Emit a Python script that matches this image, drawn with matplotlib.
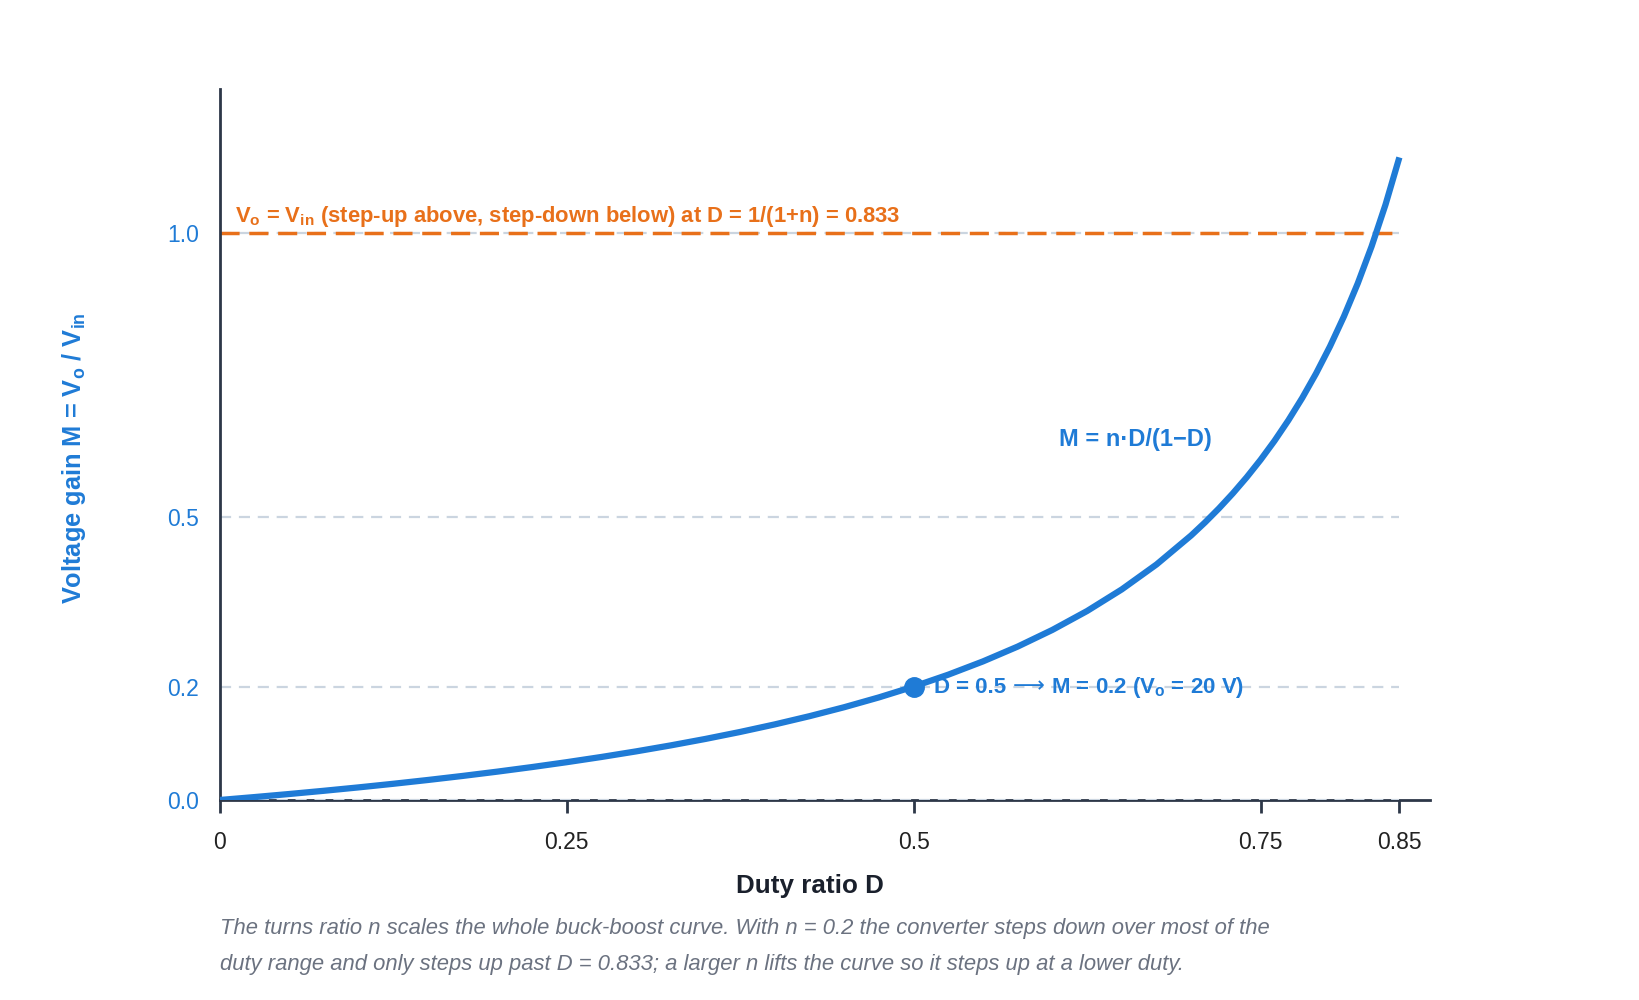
import numpy as np
import matplotlib
matplotlib.use('Agg')
import matplotlib.pyplot as plt

# duty ratio D and gain M = n*D/(1-D) with n = 0.2
duty = [0.0, 0.025, 0.05, 0.075, 0.10, 0.125, 0.15, 0.175, 0.20, 0.225, 0.25,
        0.275, 0.30, 0.325, 0.35, 0.375, 0.40, 0.425, 0.45, 0.475, 0.50,
        0.525, 0.55, 0.575, 0.60, 0.625, 0.65, 0.675, 0.70, 0.71, 0.72,
        0.73, 0.74, 0.75, 0.76, 0.77, 0.78, 0.79, 0.80, 0.81, 0.82, 0.83,
        0.84, 0.85]
gain = [0.0, 0.00513, 0.01053, 0.01622, 0.02222, 0.02857, 0.03529, 0.04242,
        0.05, 0.05806, 0.06667, 0.07586, 0.08571, 0.09630, 0.10769, 0.12,
        0.13333, 0.14783, 0.16364, 0.18095, 0.2, 0.22105, 0.24444, 0.27059,
        0.3, 0.33333, 0.37143, 0.41538, 0.46667, 0.48966, 0.51429, 0.54074,
        0.56923, 0.6, 0.63333, 0.66957, 0.70909, 0.75238, 0.8, 0.85263,
        0.91111, 0.97647, 1.05, 1.13333]

op_point = (0.5, 0.2)
unity_gain = 1.0
x_ticks = [0, 0.25, 0.5, 0.75, 0.85]
x_ticklabels = ['0', '0.25', '0.5', '0.75', '0.85']
y_ticks = [0.0, 0.2, 0.5, 1.0]
y_ticklabels = ['0.0', '0.2', '0.5', '1.0']

blue = '#1f7bd6'
orange = '#e8701a'
dark = '#2d3748'
grid = '#cbd5e0'

plt.rcParams['font.family'] = ['Liberation Sans', 'DejaVu Sans']
plt.rcParams['mathtext.fontset'] = 'custom'
plt.rcParams['mathtext.rm'] = 'Liberation Sans'
plt.rcParams['mathtext.bf'] = 'Liberation Sans:bold'

fig = plt.figure(figsize=(16.4, 10), dpi=100)
ax = fig.add_axes([0.1339, 0.2, 0.738, 0.711])

xmax = 0.85
ax.set_xlim(0, 0.872)
ax.set_ylim(0, 1.254)

# grid lines only across the data range
for yv in y_ticks:
	ax.hlines(yv, 0, xmax, colors=grid, linewidth=1.6, linestyles=(0, (5, 3.5)), zorder=3 if yv == 0 else 1)

ax.hlines(unity_gain, 0, xmax, colors=orange, linewidth=2.5, linestyles=(0, (5.5, 2.8)), zorder=2)

ax.plot(duty, gain, color=blue, linewidth=4.5, solid_capstyle='butt', zorder=4)
ax.plot([op_point[0]], [op_point[1]], 'o', color=blue, markersize=14, zorder=5)

ax.text(0.011, 1.019, r'V$_\mathbf{o}$ = V$_\mathbf{in}$ (step-up above, step-down below) at D = 1/(1+n) = 0.833',
	color=orange, fontsize=15.8, fontweight='bold', va='baseline', ha='left')

# operating point label, split so the arrow can come from DejaVu Sans
t1 = ax.text(0.515, 0.2, 'D = 0.5 ', color=blue, fontsize=16, fontweight='bold',
	va='baseline', ha='left', zorder=6)
t1.set_y(0.2 - 0.0105)
t2 = ax.annotate('⟶', xy=(1, 0.2 - 0.0105), xycoords=(t1, 'data'), color=blue,
	fontsize=16, family='DejaVu Sans', va='baseline', ha='left', zorder=6)
ax.annotate(r' M = 0.2 (V$_\mathbf{o}$ = 20 V)', xy=(1, 0.2 - 0.0105), xycoords=(t2, 'data'),
	color=blue, fontsize=16, fontweight='bold', va='baseline', ha='left', zorder=6)

ax.text(0.605, 0.635, 'M = n·D/(1−D)', color=blue, fontsize=17,
	fontweight='bold', va='center', ha='left')

for s in ['top', 'right']:
	ax.spines[s].set_visible(False)
for s in ['left', 'bottom']:
	ax.spines[s].set_color(dark)
	ax.spines[s].set_linewidth(2)

ax.set_xticks(x_ticks)
ax.set_xticklabels(x_ticklabels)
ax.set_yticks(y_ticks)
ax.set_yticklabels(y_ticklabels)
ax.tick_params(axis='x', colors=dark, labelcolor='#222222', length=9, width=2, pad=13, labelsize=16.5)
ax.tick_params(axis='y', length=0, pad=15, labelcolor=blue, labelsize=16.5)

ax.set_xlabel('Duty ratio D', fontsize=18.7, fontweight='bold', color='#1a202c')
ax.xaxis.set_label_coords(0.4875, -0.104)
ax.set_ylabel(r'Voltage gain M = V$_\mathbf{o}$ / V$_\mathbf{in}$', fontsize=18.3,
	fontweight='bold', color=blue)
ax.yaxis.set_label_coords(-0.109, 0.481)

caption = ('The turns ratio n scales the whole buck-boost curve. With n = 0.2 the converter steps down over most of the\n'
	'duty range and only steps up past D = 0.833; a larger n lifts the curve so it steps up at a lower duty.')
fig.text(0.134, 1 - 946.5 / 1000, caption, fontsize=15.8, style='italic', color='#6b7280',
	ha='left', va='center', linespacing=1.95)

fig.savefig('out.png', dpi=100)
